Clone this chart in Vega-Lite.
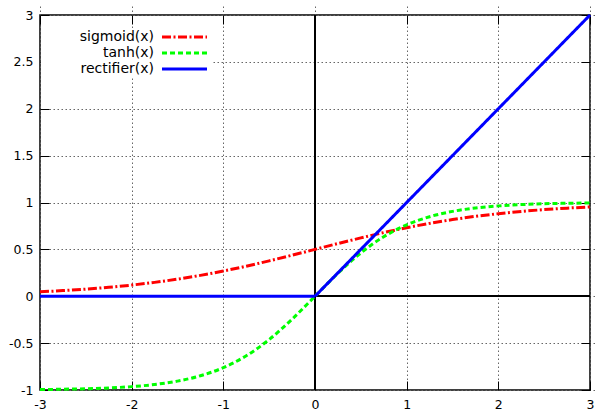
{
  "$schema": "https://vega.github.io/schema/vega-lite/v6.json",
  "width": 550,
  "height": 375,
  "autosize": "none",
  "padding": {"left": 40, "top": 15, "right": 6, "bottom": 20},
  "background": "white",
  "data": {"values": [
    {"x": -3, "y": 0.0474, "f": "sigmoid(x)"},
    {"x": -2.75, "y": 0.0601, "f": "sigmoid(x)"},
    {"x": -2.5, "y": 0.0759, "f": "sigmoid(x)"},
    {"x": -2.25, "y": 0.0953, "f": "sigmoid(x)"},
    {"x": -2, "y": 0.1192, "f": "sigmoid(x)"},
    {"x": -1.75, "y": 0.148, "f": "sigmoid(x)"},
    {"x": -1.5, "y": 0.1824, "f": "sigmoid(x)"},
    {"x": -1.25, "y": 0.2227, "f": "sigmoid(x)"},
    {"x": -1, "y": 0.2689, "f": "sigmoid(x)"},
    {"x": -0.75, "y": 0.3208, "f": "sigmoid(x)"},
    {"x": -0.5, "y": 0.3775, "f": "sigmoid(x)"},
    {"x": -0.25, "y": 0.4378, "f": "sigmoid(x)"},
    {"x": 0, "y": 0.5, "f": "sigmoid(x)"},
    {"x": 0.25, "y": 0.5622, "f": "sigmoid(x)"},
    {"x": 0.5, "y": 0.6225, "f": "sigmoid(x)"},
    {"x": 0.75, "y": 0.6792, "f": "sigmoid(x)"},
    {"x": 1, "y": 0.7311, "f": "sigmoid(x)"},
    {"x": 1.25, "y": 0.7773, "f": "sigmoid(x)"},
    {"x": 1.5, "y": 0.8176, "f": "sigmoid(x)"},
    {"x": 1.75, "y": 0.852, "f": "sigmoid(x)"},
    {"x": 2, "y": 0.8808, "f": "sigmoid(x)"},
    {"x": 2.25, "y": 0.9047, "f": "sigmoid(x)"},
    {"x": 2.5, "y": 0.9241, "f": "sigmoid(x)"},
    {"x": 2.75, "y": 0.9399, "f": "sigmoid(x)"},
    {"x": 3, "y": 0.9526, "f": "sigmoid(x)"},
    {"x": -3, "y": -0.9951, "f": "tanh(x)"},
    {"x": -2.75, "y": -0.9918, "f": "tanh(x)"},
    {"x": -2.5, "y": -0.9866, "f": "tanh(x)"},
    {"x": -2.25, "y": -0.978, "f": "tanh(x)"},
    {"x": -2, "y": -0.964, "f": "tanh(x)"},
    {"x": -1.75, "y": -0.9414, "f": "tanh(x)"},
    {"x": -1.5, "y": -0.9051, "f": "tanh(x)"},
    {"x": -1.25, "y": -0.8483, "f": "tanh(x)"},
    {"x": -1, "y": -0.7616, "f": "tanh(x)"},
    {"x": -0.75, "y": -0.6351, "f": "tanh(x)"},
    {"x": -0.5, "y": -0.4621, "f": "tanh(x)"},
    {"x": -0.25, "y": -0.2449, "f": "tanh(x)"},
    {"x": 0, "y": 0, "f": "tanh(x)"},
    {"x": 0.25, "y": 0.2449, "f": "tanh(x)"},
    {"x": 0.5, "y": 0.4621, "f": "tanh(x)"},
    {"x": 0.75, "y": 0.6351, "f": "tanh(x)"},
    {"x": 1, "y": 0.7616, "f": "tanh(x)"},
    {"x": 1.25, "y": 0.8483, "f": "tanh(x)"},
    {"x": 1.5, "y": 0.9051, "f": "tanh(x)"},
    {"x": 1.75, "y": 0.9414, "f": "tanh(x)"},
    {"x": 2, "y": 0.964, "f": "tanh(x)"},
    {"x": 2.25, "y": 0.978, "f": "tanh(x)"},
    {"x": 2.5, "y": 0.9866, "f": "tanh(x)"},
    {"x": 2.75, "y": 0.9918, "f": "tanh(x)"},
    {"x": 3, "y": 0.9951, "f": "tanh(x)"},
    {"x": -3, "y": 0, "f": "rectifier(x)"},
    {"x": 0, "y": 0, "f": "rectifier(x)"},
    {"x": 3, "y": 3, "f": "rectifier(x)"}
  ]},
  "config": {
    "view": {"stroke": "black", "strokeWidth": 1.5},
    "font": "DejaVu Sans",
    "axis": {
      "domain": false,
      "title": null,
      "ticks": true,
      "tickColor": "black",
      "tickSize": 9,
      "offset": -9,
      "tickWidth": 1,
      "tickOpacity": 1,
      "gridColor": "#666666",
      "gridOpacity": 1,
      "gridDash": [1.5, 2.5],
      "gridWidth": 1,
      "labelFont": "DejaVu Sans",
      "labelFontSize": 12.5,
      "labelColor": "black",
      "labelFlush": false,
      "labelOverlap": false,
      "format": "~g",
      "labelExpr": "replace(datum.label, '\u2212', '-')"
    },
    "legend": {
      "orient": "none",
      "legendX": 1,
      "legendY": 13,
      "padding": 0,
      "fillColor": "white",
      "labelFont": "DejaVu Sans",
      "labelFontSize": 14,
      "labelColor": "black",
      "labelAlign": "right",
      "labelOffset": -39.5,
      "symbolOffset": 134.5,
      "symbolSize": 225,
      "symbolStrokeWidth": 3,
      "symbolType": "M-3,0H3",
      "rowPadding": 0
    }
  },
  "resolve": {"axis": {"x": "independent", "y": "independent"}},
  "layer": [
    {
      "mark": {"type": "line", "opacity": 0},
      "encoding": {
        "x": {"field": "x", "type": "quantitative", "scale": {"domain": [-3, 3], "nice": false, "zero": false},
              "axis": {"orient": "top", "labels": false, "grid": false, "ticks": true, "values": [-3, -2, -1, 0, 1, 2, 3]}},
        "y": {"field": "y", "type": "quantitative", "scale": {"domain": [-1, 3], "nice": false, "zero": false},
              "axis": {"orient": "right", "labels": false, "grid": false, "ticks": true, "values": [-1, -0.5, 0, 0.5, 1, 1.5, 2, 2.5, 3]}},
        "detail": {"field": "f"}
      }
    },
    {
      "mark": {"type": "rule", "color": "black", "strokeWidth": 1},
      "encoding": {"x": {"datum": 0, "type": "quantitative", "axis": null}}
    },
    {
      "mark": {"type": "rule", "color": "black", "strokeWidth": 1},
      "encoding": {"y": {"datum": 0, "type": "quantitative", "axis": null}}
    },
    {
      "transform": [{"filter": "datum.f != 'rectifier(x)'"}],
      "mark": {"type": "line", "strokeWidth": 3, "interpolate": "monotone"},
      "encoding": {
        "x": {"field": "x", "type": "quantitative",
              "axis": {"orient": "bottom", "grid": true, "ticks": true, "values": [-3, -2, -1, 0, 1, 2, 3], "labelPadding": 8}},
        "y": {"field": "y", "type": "quantitative",
              "axis": {"orient": "left", "grid": true, "ticks": true, "values": [-1, -0.5, 0, 0.5, 1, 1.5, 2, 2.5, 3], "labelPadding": 7}},
        "color": {"field": "f", "type": "nominal", "title": null,
                  "scale": {"domain": ["sigmoid(x)", "tanh(x)", "rectifier(x)"], "range": ["#ff0000", "#00ff00", "#0000ff"]}},
        "strokeDash": {"field": "f", "type": "nominal", "title": null,
                  "scale": {"domain": ["sigmoid(x)", "tanh(x)", "rectifier(x)"], "range": [[9, 2.5, 2, 2.5], [5, 3], [1, 0]]}}
      }
    },
    {
      "transform": [{"filter": "datum.f == 'rectifier(x)'"}],
      "mark": {"type": "line", "strokeWidth": 3, "interpolate": "linear"},
      "encoding": {
        "x": {"field": "x", "type": "quantitative", "axis": null},
        "y": {"field": "y", "type": "quantitative", "axis": null},
        "color": {"field": "f", "type": "nominal", "title": null},
        "strokeDash": {"field": "f", "type": "nominal", "title": null}
      }
    }
  ]
}
